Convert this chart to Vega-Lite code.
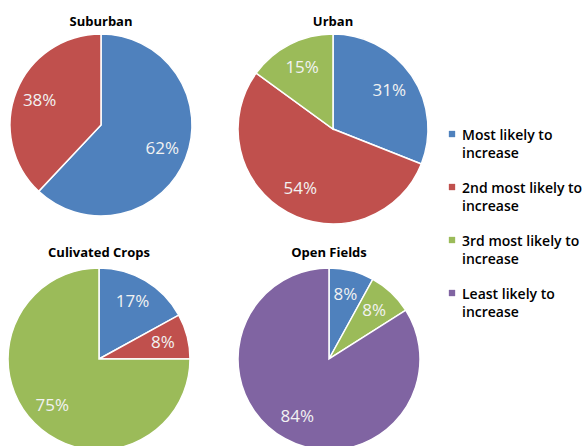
{
  "$schema": "https://vega.github.io/schema/vega-lite/v6.json",
  "padding": {"top": 16, "left": 0, "right": 0, "bottom": 0},
  "background": "white",
  "datasets": {
    "pies": [
      {"panel": "Suburban", "cat": "Most likely to increase", "rank": 1, "pct": 62, "label": "62%"},
      {"panel": "Suburban", "cat": "2nd most likely to increase", "rank": 2, "pct": 38, "label": "38%"},
      {"panel": "Urban", "cat": "Most likely to increase", "rank": 1, "pct": 31, "label": "31%"},
      {"panel": "Urban", "cat": "2nd most likely to increase", "rank": 2, "pct": 54, "label": "54%"},
      {"panel": "Urban", "cat": "3rd most likely to increase", "rank": 3, "pct": 15, "label": "15%"},
      {"panel": "Culivated Crops", "cat": "Most likely to increase", "rank": 1, "pct": 17, "label": "17%"},
      {"panel": "Culivated Crops", "cat": "2nd most likely to increase", "rank": 2, "pct": 8, "label": "8%"},
      {"panel": "Culivated Crops", "cat": "3rd most likely to increase", "rank": 3, "pct": 75, "label": "75%"},
      {"panel": "Open Fields", "cat": "Most likely to increase", "rank": 1, "pct": 8, "label": "8%"},
      {"panel": "Open Fields", "cat": "3rd most likely to increase", "rank": 3, "pct": 8, "label": "8%"},
      {"panel": "Open Fields", "cat": "Least likely to increase", "rank": 4, "pct": 84, "label": "84%"}
    ],
    "legend": [
      {"cat": "Most likely to increase", "rank": 1, "text": "Most likely to\nincrease"},
      {"cat": "2nd most likely to increase", "rank": 2, "text": "2nd most likely to\nincrease"},
      {"cat": "3rd most likely to increase", "rank": 3, "text": "3rd most likely to\nincrease"},
      {"cat": "Least likely to increase", "rank": 4, "text": "Least likely to\nincrease"}
    ]
  },
  "config": {
    "view": {"stroke": null},
    "font": "Open Sans",
    "title": {"fontSize": 13, "fontWeight": "bold", "color": "#000", "offset": 2}
  },
  "spacing": 14,
  "hconcat": [
    {
      "data": {"name": "pies"},
      "spacing": 20,
      "vconcat": [
        {
          "spacing": 31,
          "hconcat": [
            {
              "title": "Suburban",
              "width": 202,
              "height": 184,
              "transform": [{"filter": "datum.panel === 'Suburban'"}],
              "encoding": {
                "theta": {"field": "pct", "type": "quantitative", "stack": true},
                "order": {"field": "rank", "type": "quantitative"},
                "color": {"field": "cat", "type": "nominal", "legend": null,
                  "scale": {"domain": ["Most likely to increase", "2nd most likely to increase", "3rd most likely to increase", "Least likely to increase"], "range": ["#4F81BD", "#C0504D", "#9BBB59", "#8064A2"]}}
              },
              "layer": [
                {"mark": {"type": "arc", "outerRadius": 91, "stroke": "white", "strokeWidth": 1.5}},
                {
                  "mark": {"type": "text", "radius": 66, "fontSize": 17},
                  "encoding": {"color": {"value": "#f2f2f2"}, "detail": {"field": "cat"}, "text": {"field": "label", "type": "nominal"}}
                }
              ]
            },
            {
              "title": "Urban",
              "width": 200,
              "height": 192,
              "transform": [{"filter": "datum.panel === 'Urban'"}],
              "encoding": {
                "theta": {"field": "pct", "type": "quantitative", "stack": true},
                "order": {"field": "rank", "type": "quantitative"},
                "color": {"field": "cat", "type": "nominal", "legend": null,
                  "scale": {"domain": ["Most likely to increase", "2nd most likely to increase", "3rd most likely to increase", "Least likely to increase"], "range": ["#4F81BD", "#C0504D", "#9BBB59", "#8064A2"]}}
              },
              "layer": [
                {"mark": {"type": "arc", "outerRadius": 95, "stroke": "white", "strokeWidth": 1.5}},
                {
                  "mark": {"type": "text", "radius": 68, "fontSize": 17},
                  "encoding": {"color": {"value": "#f2f2f2"}, "detail": {"field": "cat"}, "text": {"field": "label", "type": "nominal"}}
                }
              ]
            }
          ]
        },
        {
          "spacing": 31,
          "hconcat": [
            {
              "title": {"text": "Culivated Crops", "offset": 5},
              "width": 198,
              "height": 184,
              "transform": [{"filter": "datum.panel === 'Culivated Crops'"}],
              "encoding": {
                "theta": {"field": "pct", "type": "quantitative", "stack": true},
                "order": {"field": "rank", "type": "quantitative"},
                "color": {"field": "cat", "type": "nominal", "legend": null,
                  "scale": {"domain": ["Most likely to increase", "2nd most likely to increase", "3rd most likely to increase", "Least likely to increase"], "range": ["#4F81BD", "#C0504D", "#9BBB59", "#8064A2"]}}
              },
              "layer": [
                {"mark": {"type": "arc", "outerRadius": 91, "stroke": "white", "strokeWidth": 1.5}},
                {
                  "mark": {"type": "text", "radius": 66, "fontSize": 17},
                  "encoding": {"color": {"value": "#f2f2f2"}, "detail": {"field": "cat"}, "text": {"field": "label", "type": "nominal"}}
                }
              ]
            },
            {
              "title": {"text": "Open Fields", "offset": 5},
              "width": 200,
              "height": 184,
              "transform": [{"filter": "datum.panel === 'Open Fields'"}],
              "encoding": {
                "theta": {"field": "pct", "type": "quantitative", "stack": true},
                "order": {"field": "rank", "type": "quantitative"},
                "color": {"field": "cat", "type": "nominal", "legend": null,
                  "scale": {"domain": ["Most likely to increase", "2nd most likely to increase", "3rd most likely to increase", "Least likely to increase"], "range": ["#4F81BD", "#C0504D", "#9BBB59", "#8064A2"]}}
              },
              "layer": [
                {"mark": {"type": "arc", "outerRadius": 91, "stroke": "white", "strokeWidth": 1.5}},
                {
                  "mark": {"type": "text", "radius": 66, "fontSize": 17},
                  "encoding": {"color": {"value": "#f2f2f2"}, "detail": {"field": "cat"}, "text": {"field": "label", "type": "nominal"}}
                }
              ]
            }
          ]
        }
      ]
    },
    {
      "data": {"name": "legend"},
      "width": 10,
      "height": 366,
      "encoding": {
        "y": {"field": "rank", "type": "quantitative", "axis": null, "scale": {"domain": [-0.906, 6], "reverse": true, "zero": false, "nice": false}}
      },
      "layer": [
        {
          "mark": {"type": "point", "shape": "square", "filled": true, "size": 40, "opacity": 1},
          "encoding": {
            "color": {"field": "cat", "type": "nominal", "legend": null,
              "scale": {"domain": ["Most likely to increase", "2nd most likely to increase", "3rd most likely to increase", "Least likely to increase"], "range": ["#4F81BD", "#C0504D", "#9BBB59", "#8064A2"]}}
          }
        },
        {
          "mark": {"type": "text", "align": "left", "baseline": "middle", "dx": 10, "dy": 2, "fontSize": 14, "fontWeight": 600, "lineBreak": "\n", "lineHeight": 18, "color": "#000"},
          "encoding": {"text": {"field": "text", "type": "nominal"}}
        }
      ]
    }
  ]
}
